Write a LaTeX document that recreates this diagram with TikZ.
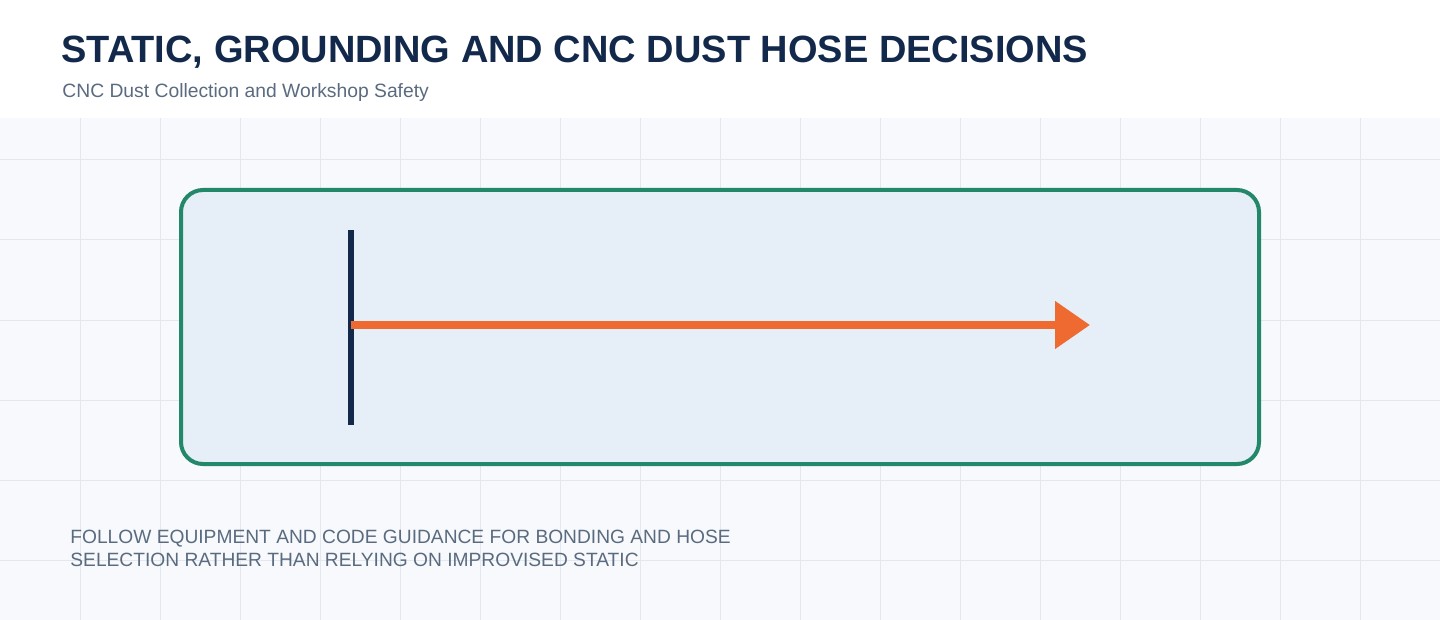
\documentclass[tikz,border=0pt]{standalone}
\usepackage{fontspec}
\setmainfont{Liberation Sans}
\usepackage{tikz}
\usetikzlibrary{arrows.meta}
\definecolor{navy}{HTML}{13294B}
\definecolor{slate}{HTML}{5A6B80}
\definecolor{gridbg}{HTML}{F7F9FC}
\definecolor{gridline}{HTML}{E3E7EE}
\definecolor{panelfill}{HTML}{E6EEF8}
\definecolor{panelline}{HTML}{23876A}
\definecolor{hose}{HTML}{EE6A30}

\begin{document}
\begin{tikzpicture}[x=0.5pt,y=-0.5pt,
	txt/.style={inner sep=0pt,anchor=base west},
	panel/.style={draw=panelline,line width=2pt,fill=panelfill,rounded corners=11pt}]
				\useasboundingbox (0,0) rectangle (1440,620);
				\fill[white] (0,0) rectangle (1440,118);
				\fill[gridbg] (0,118) rectangle (1440,620);
				\foreach \gx in {80,160,...,1360} \draw[gridline,line width=0.5pt] (\gx,118) -- (\gx,620);
				\foreach \gy in {160,240,...,560} \draw[gridline,line width=0.5pt] (0,\gy) -- (1440,\gy);
				\draw[panel] (181,190) rectangle (1259,464);
				\node[txt,text=navy,font=\bfseries\fontsize{19pt}{23pt}\selectfont] (title) at (61,63) {STATIC, GROUNDING AND CNC DUST HOSE DECISIONS};
				\node[txt,text=slate,font=\fontsize{9.65pt}{11pt}\selectfont] (subtitle) at (62,98) {CNC Dust Collection and Workshop Safety};
				\node[draw=none,fill=navy,minimum width=3pt,minimum height=97.5pt,inner sep=0pt] (bar) at (350.5,327.5) {};
				\coordinate (hoseend) at (1090,325);
				\draw[hose,line width=4pt,-{Triangle[length=17.5pt,width=23pt]}] (bar.center |- hoseend) -- (hoseend);
				\node[txt,text=slate,align=left,font=\fontsize{9.6pt}{11.5pt}\selectfont] (note) at (70,566) {FOLLOW EQUIPMENT AND CODE GUIDANCE FOR BONDING AND HOSE\\SELECTION RATHER THAN RELYING ON IMPROVISED STATIC};
			\end{tikzpicture}
\end{document}
